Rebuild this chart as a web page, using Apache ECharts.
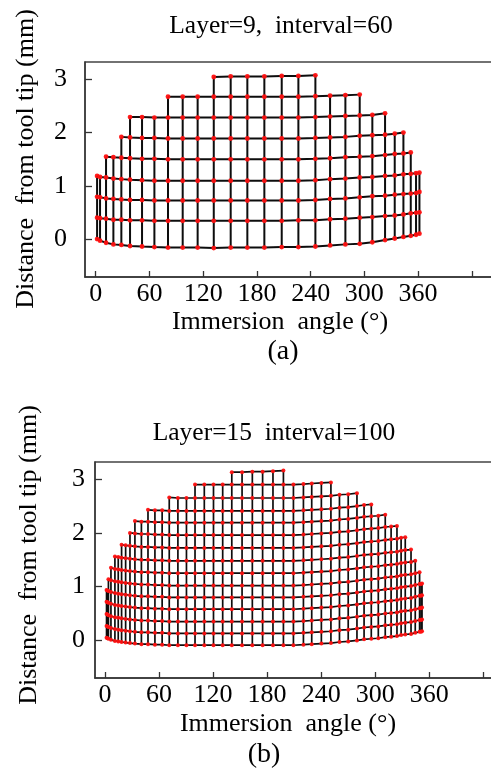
<!DOCTYPE html>
<html><head><meta charset="utf-8">
<script src="https://cdn.jsdelivr.net/npm/echarts@6/dist/echarts.min.js"></script>
<style>html,body{margin:0;padding:0;background:#fff}#c{width:491px;height:773px}</style>
</head><body><div id="c"></div>
<script>
// ---------- Panel (a): Layer=9, interval=60 ----------
const aColumns = [1.5,4.8,11.5,19.7,28.6,38.3,51.7,65.5,80.7,97.1,113.8,131.8,150.7,169.3,188.3,207.7,226.3,245.3,261.7,278.8,294.8,308.9,323.1,333.9,343.6,351.8,357.7,361.5];
const aRowStart = [0,0,0,0,2,4,5,8,11];
const aRow0 = [0.01,-0.02,-0.06,-0.09,-0.10,-0.12,-0.13,-0.14,-0.15,-0.15,-0.15,-0.16,-0.15,-0.15,-0.15,-0.14,-0.14,-0.13,-0.11,-0.09,-0.08,-0.05,-0.01,0.02,0.05,0.07,0.09,0.11];
const aRow1 = [0.41,0.40,0.39,0.37,0.37,0.36,0.36,0.35,0.35,0.35,0.35,0.35,0.35,0.35,0.35,0.35,0.36,0.36,0.38,0.39,0.41,0.42,0.44,0.45,0.47,0.49,0.50,0.51];
const aRow2 = [0.80,0.79,0.77,0.76,0.75,0.74,0.74,0.73,0.73,0.73,0.73,0.73,0.73,0.73,0.73,0.73,0.73,0.74,0.76,0.77,0.79,0.81,0.82,0.84,0.85,0.86,0.87,0.89];
const aRow3 = [1.19,1.17,1.16,1.14,1.13,1.12,1.11,1.10,1.10,1.10,1.10,1.10,1.10,1.10,1.10,1.10,1.10,1.11,1.13,1.14,1.16,1.17,1.19,1.20,1.22,1.23,1.24,1.25];
const aRow4 = [1.55,1.54,1.53,1.52,1.51,1.51,1.50,1.50,1.50,1.50,1.50,1.50,1.50,1.50,1.50,1.51,1.52,1.54,1.55,1.56,1.58,1.60,1.61,1.63];
const aRow5 = [1.92,1.91,1.90,1.90,1.89,1.89,1.89,1.89,1.89,1.89,1.89,1.89,1.89,1.90,1.91,1.92,1.94,1.95,1.96,1.98,2.00];
const aRow6 = [2.29,2.29,2.28,2.28,2.28,2.28,2.28,2.28,2.28,2.28,2.28,2.28,2.29,2.30,2.31,2.32,2.33,2.36];
const aRow7 = [2.67,2.67,2.67,2.67,2.67,2.67,2.67,2.67,2.67,2.68,2.69,2.70,2.71];
const aRow8 = [3.04,3.05,3.05,3.05,3.06,3.06,3.07];
const aRows = [aRow0,aRow1,aRow2,aRow3,aRow4,aRow5,aRow6,aRow7,aRow8];

// ---------- Panel (b): Layer=15, interval=100 ----------
const bColumns = [1.8,2.8,3.9,6.7,11.1,14.8,18.5,23.0,27.8,33.3,40.5,47.8,55.5,63.5,71.4,81.0,90.5,100.0,110.3,120.5,130.7,140.8,152.2,163.6,175.0,186.5,198.1,209.2,220.3,229.5,240.2,250.8,260.3,270.0,279.7,287.6,295.6,303.4,311.1,317.6,324.1,328.7,333.3,339.7,344.4,349.2,350.8,351.9];
const bRowStart = [0,0,0,0,0,2,3,4,6,8,9,11,14,17,21];
const bRow0 = [0.05,0.04,0.03,0.01,-0.01,-0.02,-0.03,-0.04,-0.05,-0.06,-0.07,-0.07,-0.08,-0.08,
  -0.09,-0.09,-0.09,-0.09,-0.09,-0.09,-0.09, -0.09,-0.09,-0.09,-0.09,-0.09,-0.09,-0.09,
  -0.08,-0.07,-0.06,-0.05,-0.03,-0.02,0.00,0.02,0.03,0.04,0.06,0.07,0.08,0.10,0.11,0.12,0.14,0.16,0.16,0.17];
const bRow1 = [0.27,0.26,0.25,0.23,0.21,0.20,0.19,0.18,0.17,0.16,0.15,0.15,0.14,0.14,
  0.13,0.13,0.13,0.13,0.13,0.13,0.13, 0.13,0.13,0.13,0.13,0.13,0.13,0.13,
  0.14,0.15,0.16,0.17,0.19,0.20,0.22,0.24,0.25,0.26,0.28,0.29,0.30,0.32,0.33,0.34,0.36,0.38,0.38,0.39];
const bRow2 = [0.49,0.48,0.47,0.45,0.43,0.42,0.41,0.40,0.39,0.38,0.37,0.37,0.36,0.36,
  0.35,0.35,0.35,0.35,0.35,0.35,0.35, 0.35,0.35,0.35,0.35,0.35,0.35,0.35,
  0.36,0.37,0.38,0.39,0.41,0.42,0.44,0.46,0.47,0.48,0.50,0.51,0.52,0.54,0.55,0.56,0.58,0.60,0.60,0.61];
const bRow3 = [0.72,0.71,0.70,0.68,0.66,0.65,0.64,0.63,0.62,0.61,0.60,0.60,0.59,0.59,
  0.58,0.58,0.58,0.58,0.58,0.58,0.58, 0.58,0.58,0.58,0.58,0.58,0.58,0.58,
  0.59,0.60,0.61,0.62,0.64,0.65,0.67,0.69,0.70,0.71,0.73,0.74,0.75,0.77,0.78,0.79,0.81,0.83,0.83,0.84];
const bRow4 = [0.94,0.93,0.92,0.90,0.88,0.87,0.86,0.85,0.84,0.83,0.82,0.82,0.81,0.81,
  0.80,0.80,0.80,0.80,0.80,0.80,0.80, 0.80,0.80,0.80,0.80,0.80,0.80,0.80,
  0.81,0.82,0.83,0.84,0.86,0.87,0.89,0.91,0.92,0.93,0.95,0.96,0.97,0.99,1.00,1.01,1.03,1.05,1.05,1.06];
const bRow5 = [1.14,1.12,1.10,1.09,1.08,1.07,1.06,1.05,1.04,1.04,1.03,1.03,
  1.02,1.02,1.02,1.02,1.02,1.02,1.02, 1.02,1.02,1.02,1.02,1.02,1.02,1.02,
  1.03,1.04,1.05,1.06,1.08,1.09,1.11,1.13,1.14,1.15,1.17,1.18,1.19,1.21,1.22,1.23,1.25,1.27];
const bRow6 = [1.35,1.33,1.32,1.31,1.30,1.29,1.28,1.27,1.27,1.26,1.26,
  1.25,1.25,1.25,1.25,1.25,1.25,1.25, 1.25,1.25,1.25,1.25,1.25,1.25,1.25,
  1.26,1.27,1.28,1.29,1.31,1.32,1.34,1.36,1.37,1.38,1.40,1.41,1.42,1.44,1.45,1.46,1.48];
const bRow7 = [1.56,1.55,1.54,1.53,1.52,1.51,1.50,1.50,1.49,1.49,
  1.48,1.48,1.48,1.48,1.48,1.48,1.48, 1.48,1.48,1.48,1.48,1.48,1.48,1.48,
  1.49,1.50,1.51,1.52,1.54,1.55,1.57,1.59,1.60,1.61,1.63,1.64,1.65,1.67,1.68,1.69];
const bRow8 = [1.78,1.77,1.76,1.75,1.74,1.74,1.73,1.73,
  1.72,1.72,1.72,1.72,1.72,1.72,1.72, 1.72,1.72,1.72,1.72,1.72,1.72,1.72,
  1.73,1.74,1.75,1.76,1.78,1.79,1.81,1.83,1.84,1.85,1.87,1.88,1.89,1.91,1.92];
const bRow9 = [2.00,1.99,1.98,1.98,1.97,1.97,
  1.96,1.96,1.96,1.96,1.96,1.96,1.96, 1.96,1.96,1.96,1.96,1.96,1.96,1.96,
  1.97,1.98,1.99,2.00,2.02,2.03,2.05,2.07,2.08,2.09,2.11,2.12,2.13];
const bRow10 = [2.22,2.21,2.21,2.20,2.20,
  2.19,2.19,2.19,2.19,2.19,2.19,2.19, 2.19,2.19,2.19,2.19,2.19,2.19,2.19,
  2.20,2.21,2.22,2.23,2.25,2.26,2.28,2.30,2.31,2.32,2.34];
const bRow11 = [2.43,2.42,2.42,
  2.41,2.41,2.41,2.41,2.41,2.41,2.41, 2.41,2.41,2.41,2.41,2.41,2.41,2.41,
  2.42,2.43,2.44,2.45,2.47,2.48,2.50,2.52,2.53];
const bRow12 = [2.66,2.65,2.65,2.65,2.65,2.65,2.65, 2.65,2.65,2.65,2.65,2.65,2.65,2.65,
  2.66,2.67,2.68,2.69,2.71,2.72,2.74];
const bRow13 = [2.90,2.90,2.90,2.90,2.90,2.90,2.90,2.90,2.90,2.90,2.90,2.91,2.92,2.93,2.94];
const bRow14 = [3.13,3.13,3.14,3.14,3.15,3.16];
const bRows = [bRow0,bRow1,bRow2,bRow3,bRow4,bRow5,bRow6,bRow7,bRow8,bRow9,bRow10,bRow11,bRow12,bRow13,bRow14];

// ---------- Axis ticks ----------
const xTicks = [0,60,120,180,240,300,360,420];
const xTickLabels = [0,60,120,180,240,300,360];
const yTicks = [0,1,2,3];

const serif = "'Liberation Serif','Times New Roman',serif";

function buildMesh(cols, starts, rowsY) {
  const rows = rowsY.map((ys, r) => ys.map((y, i) => [cols[starts[r] + i], y]));
  const columns = cols.map((x, c) => {
    const pts = [];
    rowsY.forEach((ys, r) => {
      const i = c - starts[r];
      if (i >= 0 && i < ys.length) pts.push([x, ys[i]]);
    });
    return pts;
  });
  return { rows, columns };
}

function meshSeries(mesh, g, lw, dot) {
  const out = [];
  const base = { type: 'line', xAxisIndex: g, yAxisIndex: g, symbol: 'none', showSymbol: false,
    silent: true, animation: false, z: 2, clip: false };
  mesh.rows.forEach(d => out.push(Object.assign({}, base, { data: d, lineStyle: { color: '#0d0d0d', width: lw } })));
  mesh.columns.forEach(d => { if (d.length > 1) out.push(Object.assign({}, base, { data: d, lineStyle: { color: '#0d0d0d', width: lw } })); });
  out.push({ type: 'scatter', xAxisIndex: g, yAxisIndex: g, silent: true, animation: false, z: 3,
    symbol: 'circle', symbolSize: dot, itemStyle: { color: '#ff1010', opacity: 0.95 },
    data: [].concat(...mesh.rows) });
  return out;
}

function xAxisCfg(g, min, max) {
  return { gridIndex: g, type: 'value', min: min, max: max,
    axisLine: { show: true, onZero: false, lineStyle: { color: '#333', width: 1.5 } },
    axisTick: { show: true, inside: true, length: 6, customValues: xTicks, lineStyle: { color: '#333', width: 1.3 } },
    axisLabel: { customValues: xTickLabels, fontFamily: serif, fontSize: 26, color: '#000', margin: 4 },
    splitLine: { show: false } };
}
function yAxisCfg(g, margin) {
  return { gridIndex: g, type: 'value', min: -0.7, max: 3.32,
    axisLine: { show: true, onZero: false, lineStyle: { color: '#333', width: 1.5 } },
    axisTick: { show: true, inside: true, length: 7, customValues: yTicks, lineStyle: { color: '#333', width: 1.3 } },
    axisLabel: { customValues: yTicks, fontFamily: serif, fontSize: 26, color: '#000', margin: margin },
    splitLine: { show: false } };
}

const meshA = buildMesh(aColumns, aRowStart, aRows);
const meshB = buildMesh(bColumns, bRowStart, bRows);

function txt(text, x, y, size, rot) {
  return { type: 'text', x: x, y: y, rotation: rot || 0, silent: true,
    style: { text: text, font: size + 'px ' + serif, fill: '#000', align: 'center', verticalAlign: 'middle' } };
}

const chart = echarts.init(document.getElementById('c'), null, { renderer: 'canvas' });
chart.setOption({
  animation: false,
  backgroundColor: '#fff',
  grid: [
    { left: 85, top: 62, width: 411, height: 215, show: true, borderColor: '#444', borderWidth: 1.3, outerBoundsMode: 'none', containLabel: false },
    { left: 95, top: 462, width: 401, height: 216, show: true, borderColor: '#444', borderWidth: 1.3, outerBoundsMode: 'none', containLabel: false }
  ],
  xAxis: [xAxisCfg(0, -12, 447), xAxisCfg(1, -11, 434)],
  yAxis: [yAxisCfg(0, 18), yAxisCfg(1, 10)],
  series: [].concat(meshSeries(meshA, 0, 2.0, 4.8), meshSeries(meshB, 1, 1.7, 4.0)),
  graphic: [
    txt('Layer=9,  interval=60', 281, 26, 25.5),
    txt('Distance  from tool tip (mm)', 26, 159, 26, Math.PI / 2),
    txt('Immersion  angle (°)', 280, 322, 26),
    txt('(a)', 283, 352, 28),
    txt('Layer=15  interval=100', 274, 433, 25.5),
    txt('Distance  from tool tip (mm)', 29, 555, 26, Math.PI / 2),
    txt('Immersion  angle (°)', 288, 724, 26),
    txt('(b)', 264, 755, 28)
  ]
});
</script>
</body></html>
